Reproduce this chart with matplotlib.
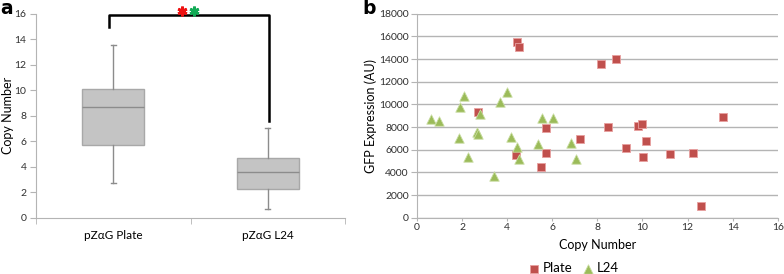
import matplotlib
matplotlib.use("Agg")
from matplotlib import pyplot as plt
from matplotlib.ticker import FixedLocator

plt.rcParams['font.family'] = ['Lato', 'DejaVu Sans']

# panel a: box plot summaries (copy number)
groups = ['pZαG Plate', 'pZαG L24']
box_min = [2.75, 0.66]
box_q1 = [5.70, 2.23]
box_med = [8.67, 3.56]
box_q3 = [10.07, 4.71]
box_max = [13.57, 7.04]

# panel b: copy number vs GFP expression
plate_x = [4.44, 4.54, 8.16, 8.83, 2.71, 5.71, 8.49, 9.79, 9.98, 13.56,
           7.22, 10.15, 9.27, 4.39, 5.72, 5.50, 10.04, 11.24, 12.24, 12.61]
plate_y = [15500, 15080, 13520, 14000, 9340, 7930, 8040, 8080, 8280, 8870,
           6980, 6750, 6180, 5570, 5690, 4450, 5390, 5630, 5740, 1060]
l24_x = [0.62, 0.95, 1.92, 2.07, 2.81, 3.70, 3.99, 5.56, 6.03, 1.85,
         2.66, 2.70, 4.15, 4.44, 4.51, 2.25, 3.40, 5.37, 6.85, 7.04]
l24_y = [8750, 8520, 9760, 10780, 9160, 10200, 11050, 8810, 8810, 7020,
         7600, 7350, 7130, 6220, 5210, 5340, 3690, 6510, 6630, 5160]

GRID = '#b4b4b4'
TXT = '#303030'

fig = plt.figure(figsize=(7.84, 2.74), dpi=100)

# ---- panel a ----
ax = fig.add_axes([0.046, 0.2055, 0.394, 0.7445])
stats = []
for i in range(len(groups)):
  stats.append(dict(whislo=box_min[i], q1=box_q1[i], med=box_med[i],
                    q3=box_q3[i], whishi=box_max[i], label=groups[i]))
ax.bxp(stats, positions=[0.5, 1.5], widths=0.4, showfliers=False,
       patch_artist=True,
       boxprops=dict(facecolor='#c4c4c4', edgecolor='#a8a8a8', linewidth=1),
       medianprops=dict(color='#8c8c8c', linewidth=1),
       whiskerprops=dict(color='#8c8c8c', linewidth=1),
       capprops=dict(color='#8c8c8c', linewidth=1), capwidths=0.03)
ax.set_xlim(0, 2)
ax.set_ylim(0, 16)
ax.set_yticks(range(0, 17, 2))
ax.set_xticks([0.5, 1.5])
ax.set_xticklabels(groups, fontsize=8.5, color='black')
ax.xaxis.set_minor_locator(FixedLocator([0, 1, 2]))
ax.tick_params(axis='x', which='major', length=0, pad=9)
ax.tick_params(axis='x', which='minor', length=4, color=GRID)
ax.tick_params(axis='y', length=4, color=GRID, labelsize=7.5, labelcolor=TXT,
               pad=3)
ax.set_ylabel('Copy Number', fontsize=9)
ax.yaxis.set_label_coords(-0.072, 0.5)
for s in ['top', 'right']:
  ax.spines[s].set_visible(False)
for s in ['left', 'bottom']:
  ax.spines[s].set_color(GRID)

# significance bracket
ax.plot([0.474, 0.474, 1.506, 1.506], [14.98, 15.87, 15.87, 7.55],
        color='black', linewidth=1.8, clip_on=False)
ax.plot([0.943], [16.2], marker=(6, 2, 0), markersize=7, color='#ee1111',
        markeredgewidth=2, linestyle='', clip_on=False)
ax.plot([1.02], [16.2], marker=(6, 2, 0), markersize=7, color='#11aa55',
        markeredgewidth=2, linestyle='', clip_on=False)
fig.text(0.0, 0.948, 'a', fontsize=13.5, fontweight='bold', va='baseline',
         family='DejaVu Sans')

# ---- panel b ----
bx = fig.add_axes([0.532, 0.2055, 0.460, 0.7445])
bx.scatter(plate_x, plate_y, marker='s', s=36, color='#c0504d',
           edgecolors='#e8a0a0', linewidths=0.6, label='Plate', zorder=3)
bx.scatter(l24_x, l24_y, marker='^', s=46, color='#9bbb59',
           edgecolors='#c8dca0', linewidths=0.6, label='L24', zorder=3)
bx.set_xlim(0, 16)
bx.set_ylim(0, 18000)
bx.set_xticks(range(0, 17, 2))
bx.set_yticks(range(0, 18001, 2000))
bx.grid(axis='y', color=GRID, linewidth=1)
bx.set_axisbelow(True)
bx.tick_params(axis='x', length=2.5, color=GRID, labelsize=7.5,
               labelcolor=TXT, pad=1)
bx.tick_params(axis='y', length=4, color=GRID, labelsize=7.5,
               labelcolor=TXT, pad=2)
bx.set_xlabel('Copy Number', fontsize=9)
bx.xaxis.set_label_coords(0.5, -0.105)
bx.set_ylabel('GFP Expression (AU)', fontsize=9)
bx.yaxis.set_label_coords(-0.11, 0.5)
for s in ['top', 'right']:
  bx.spines[s].set_visible(False)
for s in ['left', 'bottom']:
  bx.spines[s].set_color(GRID)
bx.legend(loc='center', bbox_to_anchor=(0.43, -0.247), ncol=2,
          frameon=False, fontsize=9.5, handletextpad=0.05, columnspacing=0.6,
          borderaxespad=0, handlelength=1.2, borderpad=0)
fig.text(0.462, 0.948, 'b', fontsize=13.5, fontweight='bold', va='baseline',
         family='DejaVu Sans')

fig.savefig('out.png', dpi=100)
